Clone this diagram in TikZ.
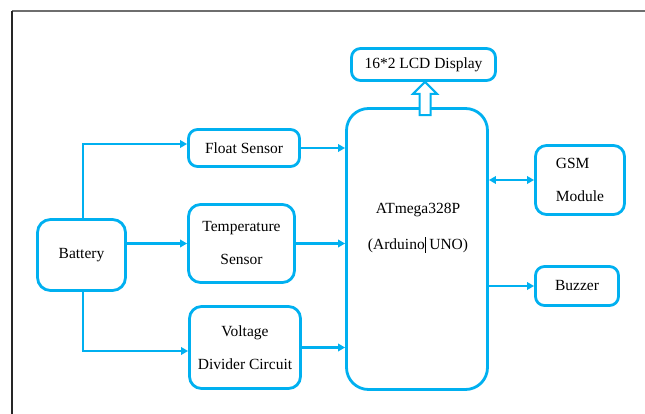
\documentclass[tikz,border=0pt]{standalone}
\usepackage{fontspec}
\setmainfont{Liberation Serif}
\usetikzlibrary{arrows.meta,calc}
\definecolor{cy}{RGB}{0,176,240}
\definecolor{framegray}{RGB}{110,110,110}
\begin{document}
\begin{tikzpicture}[x=1pt,y=-1pt,
  blk/.style={draw=cy, line width=2.8pt, rounded corners=9pt, inner sep=0pt,
    align=center, font=\fontsize{15.5}{33}\selectfont},
  txt/.style={inner sep=0pt, align=center, font=\fontsize{15.5}{36}\selectfont},
  arr/.style={draw=cy, line width=2.4pt, -{Triangle[length=7pt,width=7.5pt]}},
  darr/.style={draw=cy, line width=2.4pt, {Triangle[length=7pt,width=7.5pt]}-{Triangle[length=7pt,width=7.5pt]}},
  hollow/.style={draw=cy, line width=2pt, fill=white, line join=miter}]
\useasboundingbox (0,0) rectangle (645,414);
% frame
\draw[framegray, line width=1.4pt] (12,11) -- (645,11);
\draw[black!85, line width=1.2pt] (12,11) -- (12,414);

% blocks
\node[blk, minimum width=144pt, minimum height=32pt] (lcd) at (423.5,64.5) {16*2 LCD Display};
\node[blk, rounded corners=22pt, minimum width=141pt, minimum height=281pt] (mcu) at (417,249) {};
\node[txt] (mculabel) at (418,228) {ATmega328P\\(Arduino\rule[-3pt]{0.7pt}{16pt} UNO)};
\node[blk, minimum width=111pt, minimum height=37pt] (float) at (244,148) {Float Sensor};
\node[blk, rounded corners=12pt, minimum width=106pt, minimum height=78pt] (temp) at (241.5,243.5) {Temperature\\Sensor};
\node[blk, rounded corners=12pt, minimum width=111pt, minimum height=82pt] (volt) at (245,347.5) {Voltage\\Divider Circuit};
\node[blk, rounded corners=13pt, minimum width=88pt, minimum height=71pt] (bat) at (81.5,255) {Battery};
\node[blk, rounded corners=11pt, align=left, minimum width=89pt, minimum height=69pt] (gsm) at (580,180) {GSM\\Module};
\node[blk, minimum width=83pt, minimum height=39pt] (buzz) at (577,286) {Buzzer};

% connectors
\draw[arr] ([xshift=1.5pt]bat.north) |- ([yshift=4pt]float.west);
\draw[arr] (bat.east |- temp.west) -- (temp.west);
\draw[arr] ([xshift=1.5pt]bat.south) |- ([yshift=-3.5pt]volt.west);
\draw[arr] (float.east) -- (float.east -| mcu.west);
\draw[arr] (temp.east) -- (temp.east -| mcu.west);
\draw[arr] (volt.east) -- (volt.east -| mcu.west);
\draw[darr] (gsm.west -| mcu.east) -- (gsm.west);
\draw[arr] (buzz.west -| mcu.east) -- (buzz.west);

% hollow arrow from mcu to lcd
\coordinate (tip) at ([xshift=1.5pt]lcd.south);
\coordinate (foot) at (tip |- mcu.north);
\draw[hollow] ($(foot)+(-5.5,8)$) -- ($(tip)+(-5.5,12)$) -- ($(tip)+(-12,12)$) -- (tip)
  -- ($(tip)+(12,12)$) -- ($(tip)+(5.5,12)$) -- ($(foot)+(5.5,8)$) -- cycle;
\end{tikzpicture}
\end{document}
